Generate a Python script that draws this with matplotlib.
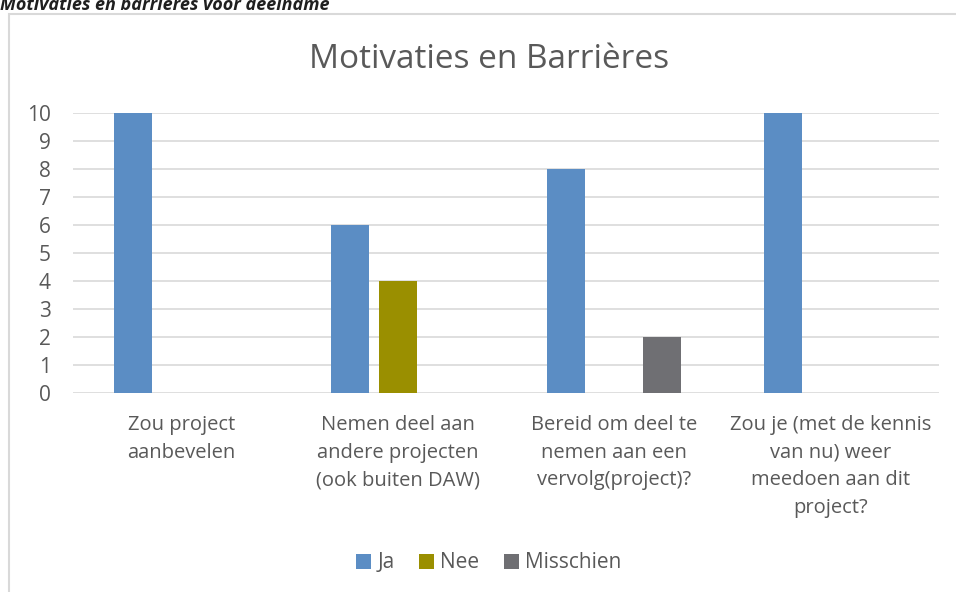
import matplotlib.pyplot as plt
from matplotlib.patches import Rectangle
import numpy as np

categories = ["Zou project\naanbevelen",
              "Nemen deel aan\nandere projecten\n(ook buiten DAW)",
              "Bereid om deel te\nnemen aan een\nvervolg(project)?",
              "Zou je (met de kennis\nvan nu) weer\nmeedoen aan dit\nproject?"]
series = ["Ja", "Nee", "Misschien"]
ja = [10, 6, 8, 10]
nee = [0, 4, 0, 0]
misschien = [0, 0, 2, 0]
colors = ["#5B8DC4", "#9A8F00", "#6F6F73"]

W, H = 956, 592
fig = plt.figure(figsize=(W / 100, H / 100), dpi=100)
plt.rcParams['font.family'] = ['Open Sans', 'DejaVu Sans']

# chart frame
fig.patches.append(Rectangle((9 / W, -0.1), 1.2, 1 - 14 / H + 0.1, transform=fig.transFigure,
                             fill=False, edgecolor="#D9D9D9", linewidth=1.5))
fig.text(0.0, 1 - 10 / H, "Motivaties en barrières voor deelname", fontsize=13,
         fontweight="bold", fontstyle="italic", color="#1F1F1F", va="baseline", ha="left")

ax = fig.add_axes([73 / W, 1 - 393 / H, (939 - 73) / W, (393 - 113) / H])
x = np.arange(len(categories))
bw = 0.1755
off = 0.2217
for i, (vals, c) in enumerate(zip([ja, nee, misschien], colors)):
    ax.bar(x + (i - 1) * off, vals, bw, color=c, label=series[i], zorder=3)

ax.set_xlim(-0.5, len(categories) - 0.5)
ax.set_ylim(0, 10)
ax.set_yticks(range(0, 11))
ax.yaxis.grid(True, color="#D9D9D9", linewidth=1.2, zorder=0)
for s in ax.spines.values():
    s.set_visible(False)
ax.tick_params(axis="both", length=0, colors="#595959")
ax.tick_params(axis="y", pad=16, labelsize=15)
ax.set_xticks(x)
ax.set_xticklabels(categories, linespacing=1.5, fontsize=14.5)
ax.tick_params(axis="x", pad=16)

fig.text(489 / W, 1 - 60 / H, "Motivaties en Barrières", fontsize=24, color="#595959",
         ha="center", va="center")

fig.legend(loc="center", bbox_to_anchor=(489 / W, 1 - 563 / H), ncol=3, frameon=False,
           fontsize=15, labelcolor="#595959", handlelength=0.7, handleheight=0.7,
           handletextpad=0.3, columnspacing=1.2)

fig.savefig("out.png", dpi=100)
